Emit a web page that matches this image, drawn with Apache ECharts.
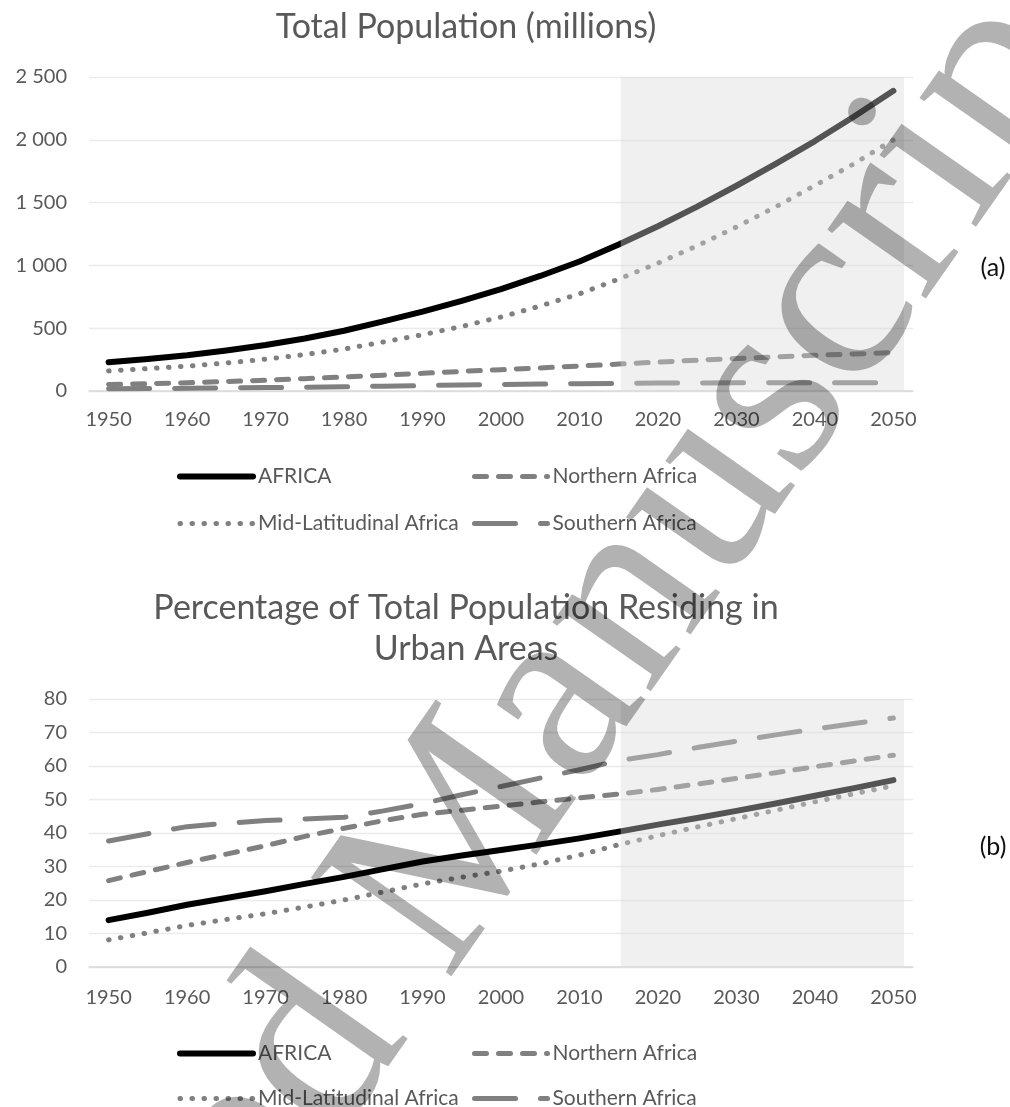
<!DOCTYPE html>
<html><head><meta charset="utf-8">
<script src="https://cdn.jsdelivr.net/npm/echarts@6/dist/echarts.min.js"></script>
<style>html,body{margin:0;padding:0;background:#fff}#c{width:1010px;height:1107px}</style>
</head><body><div id="c"></div>
<script>
const years = ['1950','1955','1960','1965','1970','1975','1980','1985','1990','1995','2000','2005','2010','2015','2020','2025','2030','2035','2040','2045','2050'];
const seriesNames = ['AFRICA','Northern Africa','Mid-Latitudinal Africa','Southern Africa'];
// (a) Total population, millions
const popAfrica   = [229, 255, 285, 322, 366, 418, 480, 554, 632, 718, 811, 916, 1031, 1166, 1312, 1468, 1634, 1808, 1990, 2185, 2390];
const popNorthern = [52, 58, 66, 75, 86, 98, 112, 126, 141, 156, 170, 184, 199, 214, 230, 245, 259, 272, 284, 295, 305];
const popMid      = [160, 178, 198, 223, 253, 290, 334, 390, 448, 514, 589, 677, 774, 891, 1018, 1156, 1306, 1466, 1636, 1810, 2000];
const popSouthern = [17, 19, 21, 24, 27, 30, 34, 38, 43, 48, 52, 55, 58, 61, 63, 64, 65, 66, 66, 66, 66];
// (b) Percentage urban
const urbAfrica   = [14.0, 16.2, 18.6, 20.6, 22.6, 24.8, 26.9, 29.2, 31.5, 33.3, 34.9, 36.6, 38.4, 40.4, 42.5, 44.5, 46.6, 48.8, 51.1, 53.4, 55.8];
const urbNorthern = [25.8, 28.5, 31.2, 33.7, 36.2, 39.0, 41.4, 43.7, 45.6, 46.8, 48.0, 49.3, 50.5, 51.6, 53.0, 54.6, 56.3, 58.0, 59.8, 61.5, 63.2];
const urbMid      = [8.1, 10.2, 12.4, 14.2, 15.9, 17.9, 20.0, 22.4, 24.8, 26.8, 28.6, 30.8, 33.4, 36.5, 39.2, 41.8, 44.3, 46.8, 49.3, 51.7, 54.1];
const urbSouthern = [37.6, 39.8, 41.9, 42.9, 43.7, 44.2, 44.7, 46.6, 48.8, 51.4, 53.9, 56.4, 58.9, 61.6, 63.4, 65.5, 67.4, 69.3, 71.0, 72.7, 74.3];
// projection period shading (years)
const projStart = 2015.25, projEnd = 2051.35;
const popTicks = {min: 0, max: 2500, interval: 500};
const urbTicks = {min: 0, max: 80, interval: 10};

const FONT = 'Lato';
const TXT = '#595959';
const styles = [
  {color: '#000000', width: 6, type: 'solid'},
  {color: '#808080', width: 5, type: [12, 12]},
  {color: '#808080', width: 5, type: [0.5, 11.5]},
  {color: '#808080', width: 5, type: [41, 25]}
];
function mkSeries(dataArr, xi, yi) {
  return dataArr.map((d, i) => ({
    name: seriesNames[i], type: 'line', data: d, xAxisIndex: xi, yAxisIndex: yi,
    symbol: 'none', z: i === 0 ? 4 : 3, animation: false,
    lineStyle: {color: styles[i].color, width: styles[i].width, type: styles[i].type, cap: 'round', join: 'round'},
    itemStyle: {color: styles[i].color}
  }));
}
function fmtThousands(v) { return String(v).replace(/\B(?=(\d{3})+(?!\d))/g, ' '); }
const grids = [
  {left: 89, width: 824, top: 77, height: 314},
  {left: 89, width: 824, top: 699, height: 268}
];
function catAxis(gi, margin) {
  return {type: 'category', gridIndex: gi, data: years, boundaryGap: true,
    axisTick: {show: false}, axisLine: {lineStyle: {color: '#d9d9d9', width: 1.5}},
    axisLabel: {interval: 1, margin: margin, color: TXT, fontFamily: FONT, fontSize: 20},
    splitLine: {show: false}};
}
function valAxis(gi, t, fmt) {
  return {type: 'value', gridIndex: gi, min: t.min, max: t.max, interval: t.interval,
    axisLine: {show: false}, axisTick: {show: false},
    axisLabel: {margin: 22, color: TXT, fontFamily: FONT, fontSize: 20, formatter: fmt},
    splitLine: {lineStyle: {color: '#ebebeb', width: 1.3}}};
}
function hiddenX(gi) { return {type: 'value', gridIndex: gi, min: 1947.5, max: 2052.5, show: false}; }
function shade(xi, yi, t) {
  return {type: 'line', data: [], xAxisIndex: xi, yAxisIndex: yi, silent: true, animation: false,
    markArea: {z: 10, silent: true, itemStyle: {color: 'rgba(217,217,217,0.39)'},
      data: [[{xAxis: projStart, yAxis: t.min}, {xAxis: projEnd, yAxis: t.max}]]}};
}
function legend(left, top, gap, names) {
  return {left: left, top: top, width: 290, height: 80, orient: 'vertical', padding: 0,
    itemWidth: 73, itemHeight: 14, itemGap: gap,
    selectedMode: false, data: names,
    lineStyle: {width: 'inherit'}, itemStyle: {opacity: 0},
    textStyle: {fontFamily: FONT, fontSize: 21, color: TXT}};
}
const colA = [seriesNames[0], seriesNames[2]];
const colB = [seriesNames[1], seriesNames[3]];
const wmAngle = 55 * Math.PI / 180;
const wmFont = '262px "Liberation Serif"';
const wmX = 498, wmY = 1018;
const option = {
  backgroundColor: '#ffffff',
  animation: false,
  grid: grids,
  xAxis: [catAxis(0, 19), catAxis(1, 21), hiddenX(0), hiddenX(1)],
  yAxis: [valAxis(0, popTicks, fmtThousands), valAxis(1, urbTicks, null)],
  legend: [legend(177, 466, 26, colA), legend(472, 466, 26, colB), legend(177, 1043, 24, colA), legend(472, 1043, 24, colB)],
  series: [
    ...mkSeries([popAfrica, popNorthern, popMid, popSouthern], 0, 0),
    ...mkSeries([urbAfrica, urbNorthern, urbMid, urbSouthern], 1, 1),
    shade(2, 0, popTicks), shade(3, 1, urbTicks)
  ],
  graphic: [
    {type: 'text', x: 466, y: 27, silent: true, style: {text: 'Total Population (millions)', fill: TXT, font: '34px ' + FONT, align: 'center', verticalAlign: 'middle'}},
    {type: 'text', x: 466, y: 608, silent: true, style: {text: 'Percentage of Total Population Residing in', fill: TXT, font: '34px ' + FONT, align: 'center', verticalAlign: 'middle'}},
    {type: 'text', x: 466, y: 649, silent: true, style: {text: 'Urban Areas', fill: TXT, font: '34px ' + FONT, align: 'center', verticalAlign: 'middle'}},
    {type: 'text', x: 993, y: 268, silent: true, style: {text: '(a)', fill: '#111', font: '25px ' + FONT, align: 'center', verticalAlign: 'middle'}},
    {type: 'text', x: 993, y: 847, silent: true, style: {text: '(b)', fill: '#111', font: '25px ' + FONT, align: 'center', verticalAlign: 'middle'}},
    {type: 'text', x: wmX, y: wmY, rotation: wmAngle, z: 100, silent: true, style: {text: 'Accepted ', fill: 'rgba(0,0,0,0.3)', font: wmFont, align: 'right', verticalAlign: 'bottom'}},
    {type: 'text', x: wmX, y: wmY, rotation: wmAngle, z: 100, silent: true, style: {text: 'Manuscript', fill: 'rgba(0,0,0,0.3)', font: wmFont, align: 'left', verticalAlign: 'bottom'}}
  ]
};
const chart = echarts.init(document.getElementById('c'), null, {renderer: 'canvas'});
chart.setOption(option);
</script>
</body></html>
